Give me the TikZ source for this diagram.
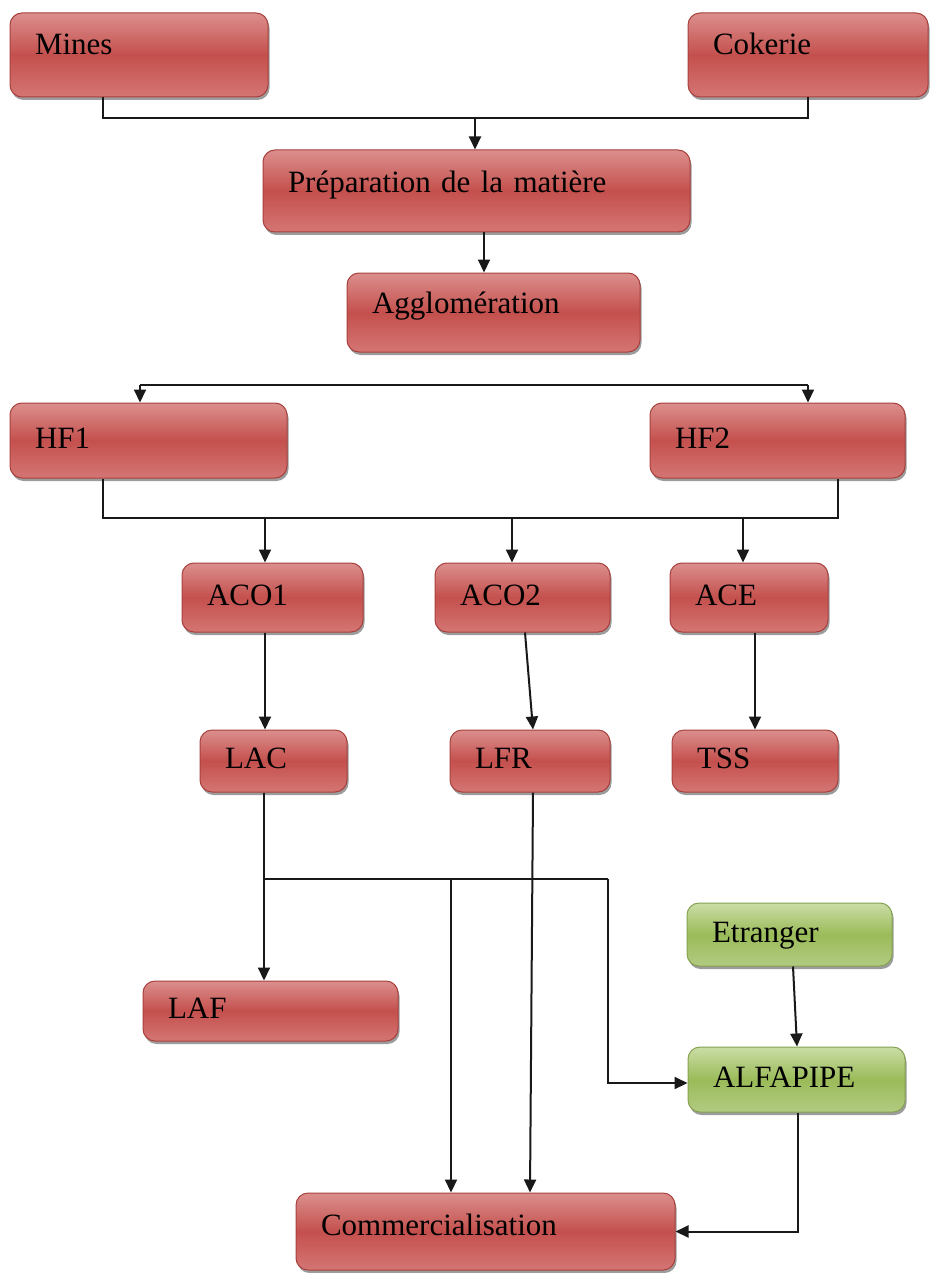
\documentclass[tikz,border=0pt]{standalone}
\usepackage{fontspec}
\setmainfont{Liberation Serif}
\usetikzlibrary{arrows.meta,shadows}
\definecolor{redtop}{HTML}{DB8F8D}
\definecolor{redmid}{HTML}{C4504D}
\definecolor{redbot}{HTML}{D47674}
\definecolor{redline}{HTML}{A8403D}
\definecolor{greentop}{HTML}{CADDA6}
\definecolor{greenmid}{HTML}{9BBB59}
\definecolor{greenbot}{HTML}{B2CB82}
\definecolor{greenline}{HTML}{86A250}
\tikzset{
  stage/.style 2 args={rounded corners=12pt, draw=redline, line width=1pt,
    top color=redtop, bottom color=redbot, middle color=redmid,
    drop shadow={shadow xshift=1.5pt, shadow yshift=-3pt, opacity=.55, fill=black!70},
    text width=#1pt, minimum height=#2pt, inner xsep=25pt, inner ysep=0pt,
    align=left, font=\fontsize{31}{36}\selectfont, text height=21pt, text depth=6pt},
  extstage/.style 2 args={stage={#1}{#2}, draw=greenline,
    top color=greentop, bottom color=greenbot, middle color=greenmid},
  link/.style={line width=2pt, black!90},
  arr/.style={link, -{Triangle[length=13pt,width=12pt]}}
}
\begin{document}
\begin{tikzpicture}[x=1pt,y=-1pt]
\path[use as bounding box, fill=white] (0,0) rectangle (939,1273);

% process stages
\node[stage={208}{84}] (mines) at (139,55) {\raisebox{7.5pt}{Mines}};
\node[stage={190}{84}] (coke) at (808,55) {\raisebox{7.5pt}{Cokerie}};
\node[stage={377}{82}] (prep) at (476.5,191) {\raisebox{5.5pt}{Préparation de la matière}};
\node[stage={243}{79}] (aggl) at (493.5,312.5) {\raisebox{7pt}{Agglomération}};
\node[stage={227}{75}] (hf1) at (148.5,440.5) {HF1};
\node[stage={205}{75}] (hf2) at (777.5,440.5) {HF2};
\node[stage={131}{69}] (aco1) at (272.5,597.5) {ACO1};
\node[stage={125}{69}] (aco2) at (522.5,597.5) {ACO2};
\node[stage={108}{69}] (ace) at (749,597.5) {ACE};
\node[stage={97}{62}] (lac) at (273.5,761) {LAC};
\node[stage={110}{62}] (lfr) at (530,761) {LFR};
\node[stage={116}{62}] (tss) at (755,761) {TSS};
\node[stage={205}{60}] (laf) at (270.5,1011) {LAF};
\node[extstage={155}{63}] (etr) at (789.5,934.5) {Etranger};
\node[extstage={167}{65}] (alfa) at (796.5,1079.5) {ALFAPIPE};
\node[stage={329}{77}] (comm) at (485.5,1231.5) {\raisebox{4pt}{Commercialisation}};

% bend points of the connectors
\coordinate (j1) at (475,118);
\coordinate (b1) at (140,385);
\coordinate (b2) at (808,385);
\coordinate (c1) at (103,518);
\coordinate (c2) at (838,518);
\coordinate (ca) at (265,518);
\coordinate (cb) at (512,518);
\coordinate (cc) at (743,518);
\coordinate (d1) at (264,879);
\coordinate (d2) at (451,879);
\coordinate (d3) at (608,879);

% raw materials
\draw[link] ([xshift=-36pt]mines.south) |- (j1);
\draw[link] (coke.south) |- (j1);
\draw[arr] (j1) -- (j1 |- prep.north);
\draw[arr] ([xshift=7.5pt]prep.south) -- ([xshift=-9.5pt]aggl.north);

% blast furnaces
\draw[link] (b1) -- (b2);
\draw[arr] (b1) -- (b1 |- hf1.north);
\draw[arr] (b2) -- (b2 |- hf2.north);

% steel plants
\draw[link] (c1 |- hf1.south) -- (c1) -- (c2) -- (c2 |- hf2.south);
\draw[arr] (ca) -- (ca |- aco1.north);
\draw[arr] (cb) -- (cb |- aco2.north);
\draw[arr] (cc) -- (cc |- ace.north);

% rolling mills
\draw[arr] (ca |- aco1.south) -- (ca |- lac.north);
\draw[arr] ([xshift=2.5pt]aco2.south) -- ([xshift=3pt]lfr.north);
\draw[arr] ([xshift=6pt]ace.south) -- (tss.north);

% downstream
\draw[link] (d1 |- lac.south) -- (d1) -- (d3);
\draw[arr] (d1) -- (d1 |- laf.north);
\draw[arr] (d2) -- (d2 |- comm.north);
\draw[arr] (d3) |- ([yshift=-3.5pt]alfa.west);
\draw[arr] ([xshift=3pt]lfr.south) -- ([xshift=44.5pt]comm.north);
\draw[arr] ([xshift=3.5pt]etr.south) -- ([xshift=0.5pt]alfa.north);
\draw[arr] ([xshift=1.5pt]alfa.south) |- (comm.east);
\end{tikzpicture}
\end{document}
